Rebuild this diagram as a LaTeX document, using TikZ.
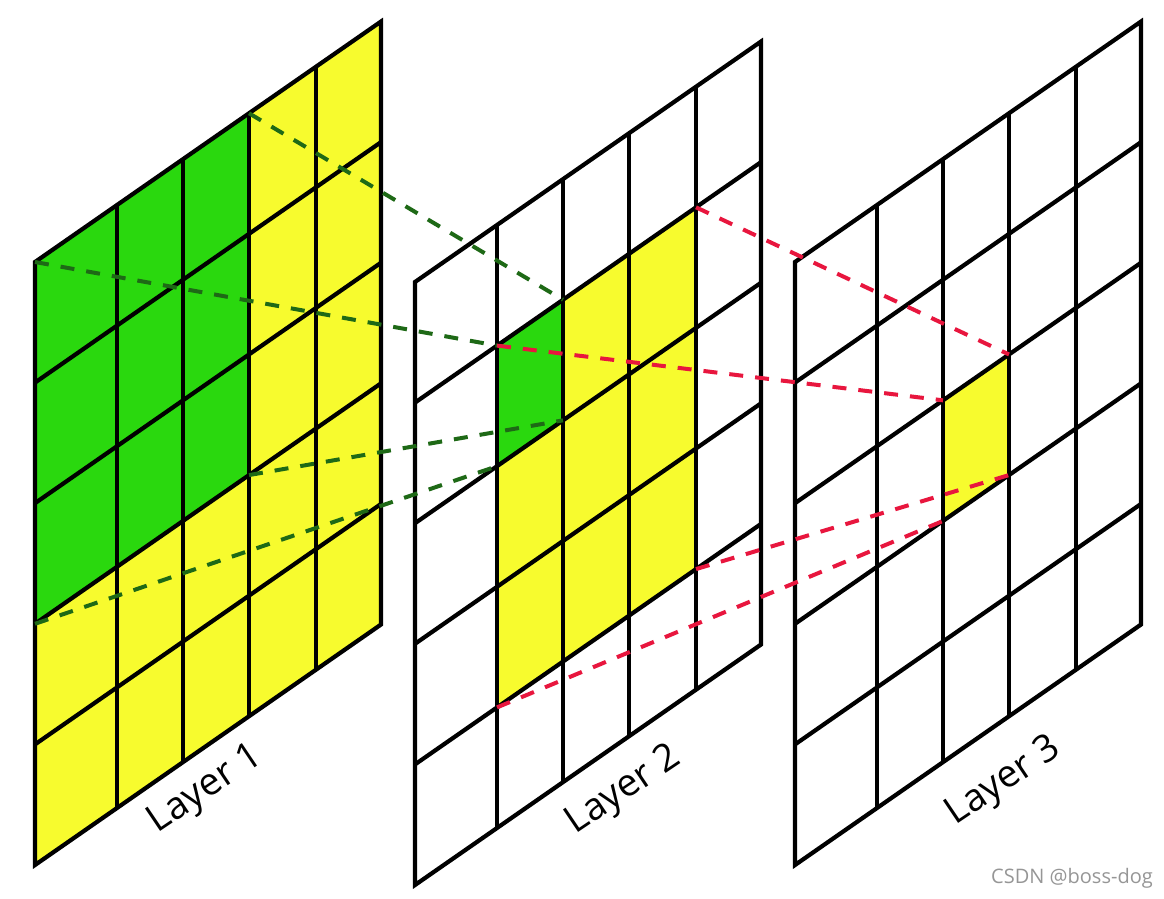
\documentclass[tikz,border=0pt]{standalone}
\usepackage{fontspec}
\setmainfont{Open Sans}
\definecolor{cellgreen}{RGB}{42,216,14}
\definecolor{cellyellow}{RGB}{247,251,46}
\definecolor{darkgreen}{RGB}{30,105,22}
\definecolor{dashred}{RGB}{232,22,62}
\definecolor{wmgray}{RGB}{150,150,150}
\newcommand\mkgridlayer[3]{%
  \foreach \cx [count=\ci from 0] in {0,82,148,214,281,346}{%
    \foreach \rj in {0,...,5}{%
      \coordinate (#1-\ci-\rj) at ({#2+\cx},{#3-0.695*\cx+120.6*\rj});%
    }%
  }%
}
\begin{document}
\begin{tikzpicture}[x=1pt,y=-1pt,
  gridline/.style={line width=4.2pt, black, line cap=butt},
  gridframe/.style={line width=4.2pt, black, line join=miter},
  gdash/.style={line width=4pt, darkgreen, dash pattern=on 14pt off 12pt},
  rdash/.style={line width=4pt, dashred, dash pattern=on 14pt off 12pt},
  lbl/.style={font=\fontsize{38}{40}\selectfont, rotate=34, inner sep=0pt}]
\useasboundingbox (0,0) rectangle (1164,899);
\fill[white] (0,0) rectangle (1164,899);
\mkgridlayer{L1}{35}{262}
\mkgridlayer{L2}{415}{282}
\mkgridlayer{L3}{795}{262}
% fills
\fill[cellyellow] (L1-0-0) -- (L1-5-0) -- (L1-5-5) -- (L1-0-5) -- cycle;
\fill[cellgreen] (L1-0-0) -- (L1-3-0) -- (L1-3-3) -- (L1-0-3) -- cycle;
\fill[cellyellow] (L2-1-1) -- (L2-4-1) -- (L2-4-4) -- (L2-1-4) -- cycle;
\fill[cellgreen] (L2-1-1) -- (L2-2-1) -- (L2-2-2) -- (L2-1-2) -- cycle;
\fill[cellyellow] (L3-2-2) -- (L3-3-2) -- (L3-3-3) -- (L3-2-3) -- cycle;
% grids
\foreach \L in {L1,L2,L3}{
  \foreach \i in {1,...,4}{\draw[gridline] (\L-\i-0) -- (\L-\i-5);}
  \foreach \j in {1,...,4}{\draw[gridline] (\L-0-\j) -- (\L-5-\j);}
  \draw[gridframe] (\L-0-0) -- (\L-5-0) -- (\L-5-5) -- (\L-0-5) -- cycle;
}
% green connectors
\draw[gdash] (L1-3-0) -- (L2-2-1);
\draw[gdash] (L1-0-0) -- (L2-1-1);
\draw[gdash] (L1-3-3) -- (L2-2-2);
\draw[gdash] (L1-0-3) -- (L2-1-2);
% red connectors
\draw[rdash] (L2-4-1) -- (L3-3-2);
\draw[rdash] (L2-1-1) -- (L3-2-2);
\draw[rdash] (L2-4-4) -- (L3-3-3);
\draw[rdash] (L2-1-4) -- (L3-2-3);
% labels
\node[lbl] (lab1) at (206,790) {Layer 1};
\node[lbl] (lab2) at (624,791) {Layer 2};
\node[lbl] (lab3) at (1004,782) {Layer 3};
\node[font=\fontsize{20}{22}\selectfont, text=wmgray, inner sep=0pt] (wm) at (1072,878) {CSDN @boss-dog};
\end{tikzpicture}
\end{document}
